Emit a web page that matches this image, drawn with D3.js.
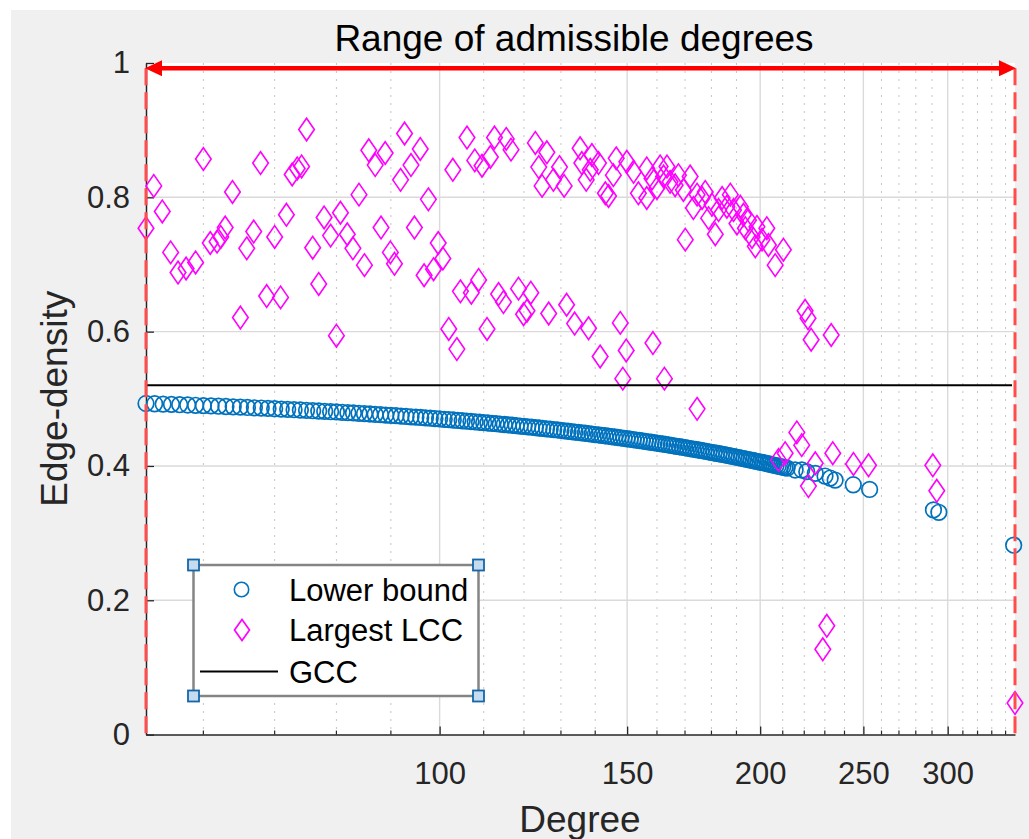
<!DOCTYPE html>
<html><head><meta charset="utf-8">
<script src="https://cdn.jsdelivr.net/npm/d3@7"></script>
<style>
body{margin:0;background:#fff;}
text{font-family:"Liberation Sans",Arial,Helvetica,sans-serif;}
</style>
</head><body>
<svg id="chart" width="1029" height="839"></svg>
<script>
// ---------------- data ----------------
const titleText = "Range of admissible degrees";
const xLabel = "Degree";
const yLabel = "Edge-density";
const legendLabels = ["Lower bound", "Largest LCC", "GCC"];

const admissibleRange = [53, 347];
const xTicks = [100, 150, 200, 250, 300];
const xMinorTicks = [60, 70, 80, 90, 110, 120, 130, 140, 160, 170, 180, 190, 210, 220, 230, 240, 260, 270, 280, 290, 310, 320, 330, 340];
const yTicks = [0, 0.2, 0.4, 0.6, 0.8, 1];
const gccDensity = 0.520;
const arrowLevel = 0.992;

const lowerBoundDegree = [
 53,54,55,56,57,58,59,60,61,62,63,64,65,66,67,68,69,70,71,72,73,74,75,76,77,78,79,80,81,82,
 83,84,85,86,87,88,89,90,91,92,93,94,95,96,97,98,99,100,101,102,103,104,105,106,107,108,109,110,111,112,
 113,114,115,116,117,118,119,120,121,122,123,124,125,126,127,128,129,130,131,132,133,134,135,136,137,138,139,140,141,142,
 143,144,145,146,147,148,149,150,151,152,153,154,155,156,157,158,159,160,161,162,163,164,165,166,167,168,169,170,171,172,
 173,174,175,176,177,178,179,180,181,182,183,184,185,186,187,188,189,190,191,192,193,194,195,196,197,198,199,200,201,202,
 203,204,205,206,207,208,209,210,211,212,
 215.7,218.8,221.2,225.3,230.1,232.7,235.2,244.6,253.4,290.9,294.3,346
];
const lowerBoundDensity = [
 .4930,.4926,.4921,.4917,.4912,.4908,.4903,.4899,.4894,.4890,.4885,.4880,.4876,.4871,.4866,.4862,.4857,.4852,.4847,.4843,
 .4838,.4833,.4828,.4823,.4818,.4813,.4808,.4804,.4799,.4794,.4789,.4784,.4779,.4774,.4768,.4763,.4758,.4753,.4748,.4743,
 .4737,.4732,.4727,.4722,.4716,.4711,.4706,.4700,.4695,.4689,.4684,.4678,.4673,.4668,.4662,.4657,.4651,.4645,.4640,.4634,
 .4629,.4623,.4617,.4612,.4606,.4600,.4594,.4589,.4583,.4577,.4571,.4565,.4559,.4553,.4547,.4542,.4536,.4530,.4523,.4517,
 .4511,.4505,.4499,.4493,.4487,.4481,.4475,.4468,.4462,.4456,.4450,.4443,.4437,.4431,.4424,.4418,.4412,.4405,.4399,.4392,
 .4386,.4379,.4373,.4366,.4360,.4353,.4347,.4340,.4333,.4327,.4320,.4313,.4307,.4300,.4293,.4286,.4280,.4273,.4266,.4259,
 .4252,.4245,.4238,.4231,.4225,.4218,.4211,.4203,.4196,.4189,.4182,.4175,.4168,.4161,.4154,.4147,.4139,.4132,.4125,.4117,
 .4110,.4103,.4095,.4088,.4081,.4073,.4066,.4058,.4051,.4044,.4036,.4029,.4021,.4013,.4006,.3998,.3991,.3983,.3975,.3968,
 .394,.394,.3915,.389,.385,.382,.379,.372,.365,.3345,.331,.282
];

const lccDegree = [
 53.0,53.9,54.9,55.9,56.8,57.8,59.0,60.0,60.9,61.8,62.3,62.9,63.9,65.0,65.9,66.9,67.9,68.8,70.0,70.9,
 71.8,72.7,73.5,74.2,75.0,76.0,77.0,77.9,79.0,80.0,80.7,81.9,82.9,84.0,85.0,85.8,87.0,88.1,88.9,89.9,
 90.7,91.9,92.7,94.0,94.7,95.9,96.7,97.6,98.7,99.7,100.7,102.0,102.9,103.8,104.6,106.1,107.1,107.9,108.8,109.6,
 110.8,111.6,112.6,113.6,114.8,115.5,116.7,118.6,119.9,120.8,121.8,123.0,123.9,124.8,126.1,126.6,127.9,129.6,130.9,131.6,
 133.9,135.5,136.0,137.3,138.0,138.5,139.0,141.0,141.5,143.1,144.1,145.6,146.5,147.8,148.6,149.7,149.9,152.1,153.7,156.5,
 156.5,158.3,158.6,160.0,161.1,162.3,162.6,163.5,164.6,166.4,167.6,169.4,170.1,171.9,173.1,174.5,174.5,176.4,177.6,178.9,
 180.2,181.5,182.8,184.2,186.1,187.5,188.8,190.2,191.6,192.9,193.7,195.0,196.5,197.9,198.6,200.8,202.9,203.6,206.6,208.1,
 210.3,211.1,216.5,218.8,220.4,221.8,222.0,223.3,225.3,229.0,231.0,233.2,234.0,244.7,252.8,290.5,293.0,347.0
];
const lccDensity = [
 .754,.817,.779,.718,.688,.694,.703,.857,.732,.734,.741,.755,.808,.621,.724,.749,.851,.653,.741,.651,
 .774,.834,.843,.846,.901,.725,.671,.770,.743,.594,.777,.745,.724,.804,.699,.870,.848,.755,.866,.718,
 .701,.826,.895,.848,.755,.872,.684,.797,.693,.732,.709,.604,.841,.574,.660,.889,.658,.855,.677,.847,
 .604,.860,.889,.656,.644,.887,.871,.664,.626,.631,.658,.881,.845,.817,.867,.627,.826,.845,.817,.640,
 .612,.873,.851,.826,.605,.841,.863,.851,.563,.806,.802,.833,.858,.613,.530,.572,.853,.838,.806,.843,
 .799,.828,.583,.814,.846,.831,.530,.846,.823,.818,.833,.811,.737,.831,.784,.804,.485,.799,.808,.769,
 .789,.745,.781,.799,.786,.804,.781,.761,.786,.774,.754,.766,.741,.727,.756,.737,.754,.729,.699,.409,
 .722,.419,.450,.431,.631,.620,.370,.588,.404,.127,.162,.595,.419,.403,.401,.401,.363,.047
];

// ---------------- layout ----------------
const W = 1029, H = 839;
const plot = {left: 146, right: 1015, top: 63, bottom: 734.6};
const svg = d3.select("#chart");

const x = d3.scaleLog().domain(admissibleRange).range([plot.left, plot.right]);
const y = d3.scaleLinear().domain([0, 1]).range([plot.bottom, plot.top]);

const textColor = "#262626";
const blue = "#0072bd";
const magenta = "#ff00ff";

// figure background
svg.append("rect").attr("x", 11).attr("y", 10).attr("width", W - 11).attr("height", H - 10).attr("fill", "#f0f0f0");
// axes background
svg.append("rect").attr("x", plot.left).attr("y", plot.top).attr("width", plot.right - plot.left)
  .attr("height", plot.bottom - plot.top).attr("fill", "#ffffff");

// grid
const grid = svg.append("g");
grid.selectAll(".minor").data(xMinorTicks).enter().append("line")
  .attr("x1", d => x(d)).attr("x2", d => x(d)).attr("y1", plot.top).attr("y2", plot.bottom)
  .attr("stroke", "#c4c4c4").attr("stroke-width", 1).attr("stroke-dasharray", "2,6");
grid.selectAll(".major").data(xTicks).enter().append("line")
  .attr("x1", d => x(d)).attr("x2", d => x(d)).attr("y1", plot.top).attr("y2", plot.bottom)
  .attr("stroke", "#dadada").attr("stroke-width", 1.4);
grid.selectAll(".ymajor").data(yTicks.filter(d => d > 0 && d < 1)).enter().append("line")
  .attr("x1", plot.left).attr("x2", plot.right).attr("y1", d => y(d)).attr("y2", d => y(d))
  .attr("stroke", "#dadada").attr("stroke-width", 1.4);

// axes
const xAxis = d3.axisBottom(x).tickValues(xTicks).tickFormat(d3.format("d"))
  .tickSizeInner(-8).tickSizeOuter(0).tickPadding(27);
const gx = svg.append("g").attr("transform", `translate(0,${plot.bottom})`).call(xAxis);
gx.select(".domain").attr("stroke", textColor).attr("stroke-width", 1.5);
gx.selectAll(".tick line").attr("stroke", textColor).attr("stroke-width", 1.3);
gx.selectAll(".tick text").attr("fill", textColor).style("font-size", "31px")
  .style("font-family", '"Liberation Sans",Arial,sans-serif');
// minor ticks on x axis
svg.append("g").selectAll("line").data(xMinorTicks).enter().append("line")
  .attr("x1", d => x(d)).attr("x2", d => x(d)).attr("y1", plot.bottom).attr("y2", plot.bottom - 4)
  .attr("stroke", textColor).attr("stroke-width", 1.2);

const yAxis = d3.axisLeft(y).tickValues(yTicks).tickFormat(d => d === 0 || d === 1 ? d3.format("d")(d) : d3.format(".1f")(d))
  .tickSizeInner(-8).tickSizeOuter(0).tickPadding(16);
const gy = svg.append("g").attr("transform", `translate(${plot.left},0)`).call(yAxis);
gy.select(".domain").attr("stroke", textColor).attr("stroke-width", 1.5);
gy.selectAll(".tick line").attr("stroke", textColor).attr("stroke-width", 1.3);
gy.selectAll(".tick text").attr("fill", textColor).style("font-size", "31px")
  .style("font-family", '"Liberation Sans",Arial,sans-serif');

// axis labels
svg.append("text").attr("x", 580).attr("y", 832)
  .attr("text-anchor", "middle").attr("fill", textColor).style("font-size", "37px").text(xLabel);
svg.append("text").attr("transform", `translate(67,${(plot.top + plot.bottom) / 2}) rotate(-90)`)
  .attr("text-anchor", "middle").attr("fill", textColor).style("font-size", "37px").text(yLabel);

// lower bound circles
const lowerBound = lowerBoundDegree.map((d, i) => ({d, v: lowerBoundDensity[i]}));
svg.append("g").selectAll("circle").data(lowerBound).enter().append("circle")
  .attr("cx", p => x(p.d)).attr("cy", p => y(p.v)).attr("r", 7.8)
  .attr("fill", "none").attr("stroke", blue).attr("stroke-width", 1.7);

// LCC diamonds
const diamond = (w, h) => `M0,${-h}L${w},0L0,${h}L${-w},0Z`;
const lcc = lccDegree.map((d, i) => ({d, v: lccDensity[i]}));
svg.append("g").selectAll("path").data(lcc).enter().append("path")
  .attr("transform", p => `translate(${x(p.d)},${y(p.v)})`)
  .attr("d", diamond(7.8, 11.3))
  .attr("fill", "none").attr("stroke", magenta).attr("stroke-width", 1.6);

// GCC line
svg.append("line").attr("x1", x(admissibleRange[0])).attr("x2", x(admissibleRange[1]) - 3)
  .attr("y1", y(gccDensity)).attr("y2", y(gccDensity))
  .attr("stroke", "#000").attr("stroke-width", 2);

// dashed red range boundaries
svg.append("g").selectAll("line").data(admissibleRange).enter().append("line")
  .attr("x1", d => x(d)).attr("x2", d => x(d)).attr("y1", y(arrowLevel)).attr("y2", y(0))
  .attr("stroke", "#ff4d4d").attr("stroke-width", 3).attr("stroke-dasharray", "17,7");

// double arrow
const ay = y(arrowLevel);
const x0 = x(admissibleRange[0]) - 1, x1 = x(admissibleRange[1]) + 1;
svg.append("line").attr("x1", x0 + 10).attr("x2", x1 - 10).attr("y1", ay).attr("y2", ay)
  .attr("stroke", "#ff0000").attr("stroke-width", 4.5);
svg.append("path").attr("d", `M${x0},${ay}L${x0 + 17},${ay - 8}L${x0 + 17},${ay + 8}Z`).attr("fill", "#ff0000");
svg.append("path").attr("d", `M${x1},${ay}L${x1 - 17},${ay - 8}L${x1 - 17},${ay + 8}Z`).attr("fill", "#ff0000");

// title annotation
svg.append("text").attr("x", 574).attr("y", 51).attr("text-anchor", "middle")
  .attr("fill", "#000").style("font-size", "37px").text(titleText);

// legend
const lg = svg.append("g");
const L = {x: 193.5, y: 565, w: 285, h: 131};
lg.append("rect").attr("x", L.x).attr("y", L.y).attr("width", L.w).attr("height", L.h)
  .attr("fill", "#fff").attr("stroke", "#858585").attr("stroke-width", 2.5);
const rowY = [589.5, 630, 671.5];
lg.append("circle").attr("cx", 241.5).attr("cy", rowY[0]).attr("r", 7.2)
  .attr("fill", "none").attr("stroke", blue).attr("stroke-width", 1.6);
lg.append("path").attr("transform", `translate(242,${rowY[1]})`).attr("d", diamond(7.5, 10.5))
  .attr("fill", "none").attr("stroke", magenta).attr("stroke-width", 1.7);
lg.append("line").attr("x1", 200).attr("x2", 278).attr("y1", rowY[2]).attr("y2", rowY[2])
  .attr("stroke", "#000").attr("stroke-width", 2);
lg.selectAll("text.lab").data(legendLabels).enter().append("text")
  .attr("x", 289).attr("y", (d, i) => rowY[i] + 11).attr("fill", "#000")
  .style("font-size", "31px").text(d => d);
// selection handles
const corners = [[L.x, L.y], [L.x + L.w, L.y], [L.x, L.y + L.h], [L.x + L.w, L.y + L.h]];
lg.selectAll("rect.h").data(corners).enter().append("rect")
  .attr("x", c => c[0] - 5.5).attr("y", c => c[1] - 5.5).attr("width", 11).attr("height", 11)
  .attr("fill", "#c5dcf0").attr("stroke", "#1466a8").attr("stroke-width", 1.8);
</script>
</body></html>
